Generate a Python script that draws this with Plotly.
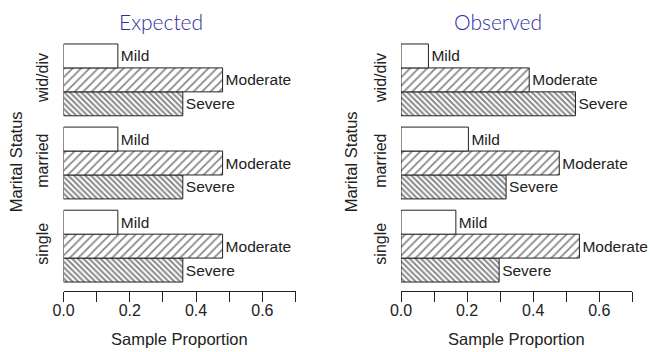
import plotly.graph_objects as go

# ---- data ----
status = ["single", "married", "wid/div"]          # bottom -> top
severity = ["Severe", "Moderate", "Mild"]            # bottom -> top within a group
expected = {
    "Mild":     [0.164, 0.164, 0.164],
    "Moderate": [0.480, 0.480, 0.480],
    "Severe":   [0.360, 0.360, 0.360],
}
observed = {
    "Mild":     [0.166, 0.204, 0.083],
    "Moderate": [0.540, 0.479, 0.388],
    "Severe":   [0.297, 0.318, 0.528],
}
panel_titles = ["Expected", "Observed"]
x_tickvals = [0.0, 0.1, 0.2, 0.3, 0.4, 0.5, 0.6, 0.7]
x_ticktext = ["0.0", "", "0.2", "", "0.4", "", "0.6", ""]

styles = {
    "Mild":     dict(color="white", pattern=dict(shape="")),
    "Moderate": dict(color="white", pattern=dict(shape="/", size=6, solidity=0.3, fgcolor="#111")),
    "Severe":   dict(color="white", pattern=dict(shape="\\", size=4, solidity=0.5, fgcolor="#111")),
}

W, H = 650, 352
T, B = 34.7, 61.3
FONT = "Liberation Sans, Arial, sans-serif"
fig = go.Figure()

panels = [(expected, "x", "y", [63.5 / W, 295.5 / W]),
          (observed, "x2", "y2", [401 / W, 632.3 / W])]

for data, xa, ya, dom in panels:
    for sev in severity:
        fig.add_trace(go.Bar(
            y=status, x=data[sev], orientation="h",
            xaxis=xa, yaxis=ya,
            marker=dict(color=styles[sev]["color"], pattern=styles[sev]["pattern"],
                        line=dict(color="#222", width=1)),
            text=[sev] * len(status), textposition="outside",
            textfont=dict(family=FONT, size=15.5, color="#222"),
            constraintext="none", cliponaxis=False,
            showlegend=False, hoverinfo="x+y",
        ))

axis_x = dict(range=[0, 0.7], showgrid=False, zeroline=False, showline=True,
              linecolor="#222", linewidth=1, ticks="outside", ticklen=10,
              tickcolor="#222", tickvals=x_tickvals, ticktext=x_ticktext,
              ticklabelstandoff=-5,
              tickfont=dict(family=FONT, size=16, color="#222"), automargin=False)
axis_y = dict(type="category", categoryorder="array", categoryarray=status,
              range=[-0.54, 2.54], showgrid=False, zeroline=False, showline=False,
              ticks="outside", ticklen=8, tickcolor="rgba(0,0,0,0)", tickangle=-90,
              tickfont=dict(family=FONT, size=16, color="#222"), automargin=False)

fig.update_layout(
    width=W, height=H,
    margin=dict(l=0, r=0, t=T, b=B),
    paper_bgcolor="white", plot_bgcolor="white",
    barmode="group", bargap=0.136, bargroupgap=0,
    xaxis=dict(axis_x, domain=panels[0][3], anchor="y"),
    yaxis=dict(axis_y, anchor="x"),
    xaxis2=dict(axis_x, domain=panels[1][3], anchor="y2"),
    yaxis2=dict(axis_y, anchor="x2"),
)


def py(pix):
    return (H - B - pix) / (H - T - B)


ann = []
title_x = [161, 498]
ytitle_x = [16, 351]
for i in range(2):
    ann.append(dict(text=panel_titles[i], x=title_x[i] / W, y=py(21),
                    xref="paper", yref="paper", xanchor="center", yanchor="middle",
                    showarrow=False,
                    font=dict(family="Lato, sans-serif", size=21, weight=300, color="#2E2EA0")))
    ann.append(dict(text="Sample Proportion", x=(panels[i][3][0] + panels[i][3][1]) / 2,
                    y=py(339), xref="paper", yref="paper", xanchor="center",
                    yanchor="middle", showarrow=False,
                    font=dict(family=FONT, size=16.5, color="#222")))
    ann.append(dict(text="Marital Status", x=ytitle_x[i] / W, y=py(162),
                    xref="paper", yref="paper", xanchor="center", yanchor="middle",
                    textangle=-90, showarrow=False,
                    font=dict(family=FONT, size=16.5, color="#222")))
fig.update_layout(annotations=ann)

fig.write_html("out.html", config={"displayModeBar": False},
               post_script="document.body.style.margin='0';")
